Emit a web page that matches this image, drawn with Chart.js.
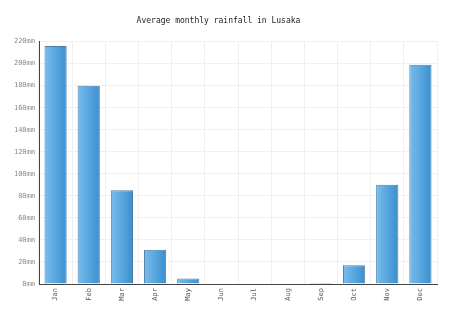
<!DOCTYPE html>
<html>
<head>
<meta charset="utf-8">
<script src="https://cdn.jsdelivr.net/npm/chart.js@4/dist/chart.umd.min.js"></script>
<style>
  html, body { margin: 0; padding: 0; background: #fff; }
  #wrap { width: 474px; height: 322px; }
</style>
</head>
<body>
<div id="wrap"><canvas id="rain-chart"></canvas></div>
<script>
// Lusaka monthly rainfall (mm)
const months = ['Jan', 'Feb', 'Mar', 'Apr', 'May', 'Jun', 'Jul', 'Aug', 'Sep', 'Oct', 'Nov', 'Dec'];
const rainfall = [216, 180, 85, 31, 5, 0, 0, 0, 1, 17, 90, 199];
const yTicks = [0, 20, 40, 60, 80, 100, 120, 140, 160, 180, 200, 220];

const BAR_PCT = 0.67;
const monoFont = "'DejaVu Sans Mono', 'Liberation Mono', monospace";

// horizontal light-to-dark blue fill across each bar
function barFill(context) {
  const chart = context.chart;
  const xs = chart.scales.x;
  if (!xs || !chart.chartArea) return '#4fa3dd';
  const centre = xs.getPixelForValue(context.dataIndex);
  const half = (xs.width / months.length) * BAR_PCT / 2;
  const g = chart.ctx.createLinearGradient(centre - half, 0, centre + half, 0);
  g.addColorStop(0, '#78bdee');
  g.addColorStop(1, '#3a8fcf');
  return g;
}

window.addEventListener('DOMContentLoaded', () => {
  const ctx = document.getElementById('rain-chart').getContext('2d');
  new Chart(ctx, {
    type: 'bar',
    data: {
      labels: months,
      datasets: [{
        label: 'Rainfall',
        data: rainfall,
        backgroundColor: barFill,
        borderColor: '#4d7ea6',
        borderWidth: 1,
        borderSkipped: 'bottom',
        categoryPercentage: 1,
        barPercentage: BAR_PCT
      }]
    },
    options: {
      responsive: true,
      maintainAspectRatio: false,
      animation: false,
      layout: { padding: { left: 0, right: 37, top: 0, bottom: 0 } },
      plugins: {
        legend: { display: false },
        tooltip: { enabled: false },
        title: {
          display: true,
          text: 'Average monthly rainfall in Lusaka',
          color: '#222',
          font: { family: monoFont, size: 8, weight: 'normal' },
          padding: { top: 16, bottom: 16 }
        }
      },
      scales: {
        x: {
          offset: true,
          grid: { color: '#f0f0f0', offset: true, drawTicks: false },
          border: { color: '#444', width: 1 },
          ticks: {
            color: '#555',
            font: { family: monoFont, size: 7 },
            maxRotation: 90,
            minRotation: 90,
            padding: 4,
            autoSkip: false
          },
          afterFit: s => { s.height = 38; }
        },
        y: {
          min: 0,
          max: 220,
          afterBuildTicks: s => { s.ticks = yTicks.map(v => ({ value: v })); },
          grid: { color: '#f0f0f0', drawTicks: false },
          border: { color: '#444', width: 1 },
          ticks: {
            color: '#888',
            font: { family: monoFont, size: 7 },
            padding: 4,
            callback: v => v + 'mm'
          },
          afterFit: s => { s.width = 39; }
        }
      }
    }
  });
});
</script>
</body>
</html>
